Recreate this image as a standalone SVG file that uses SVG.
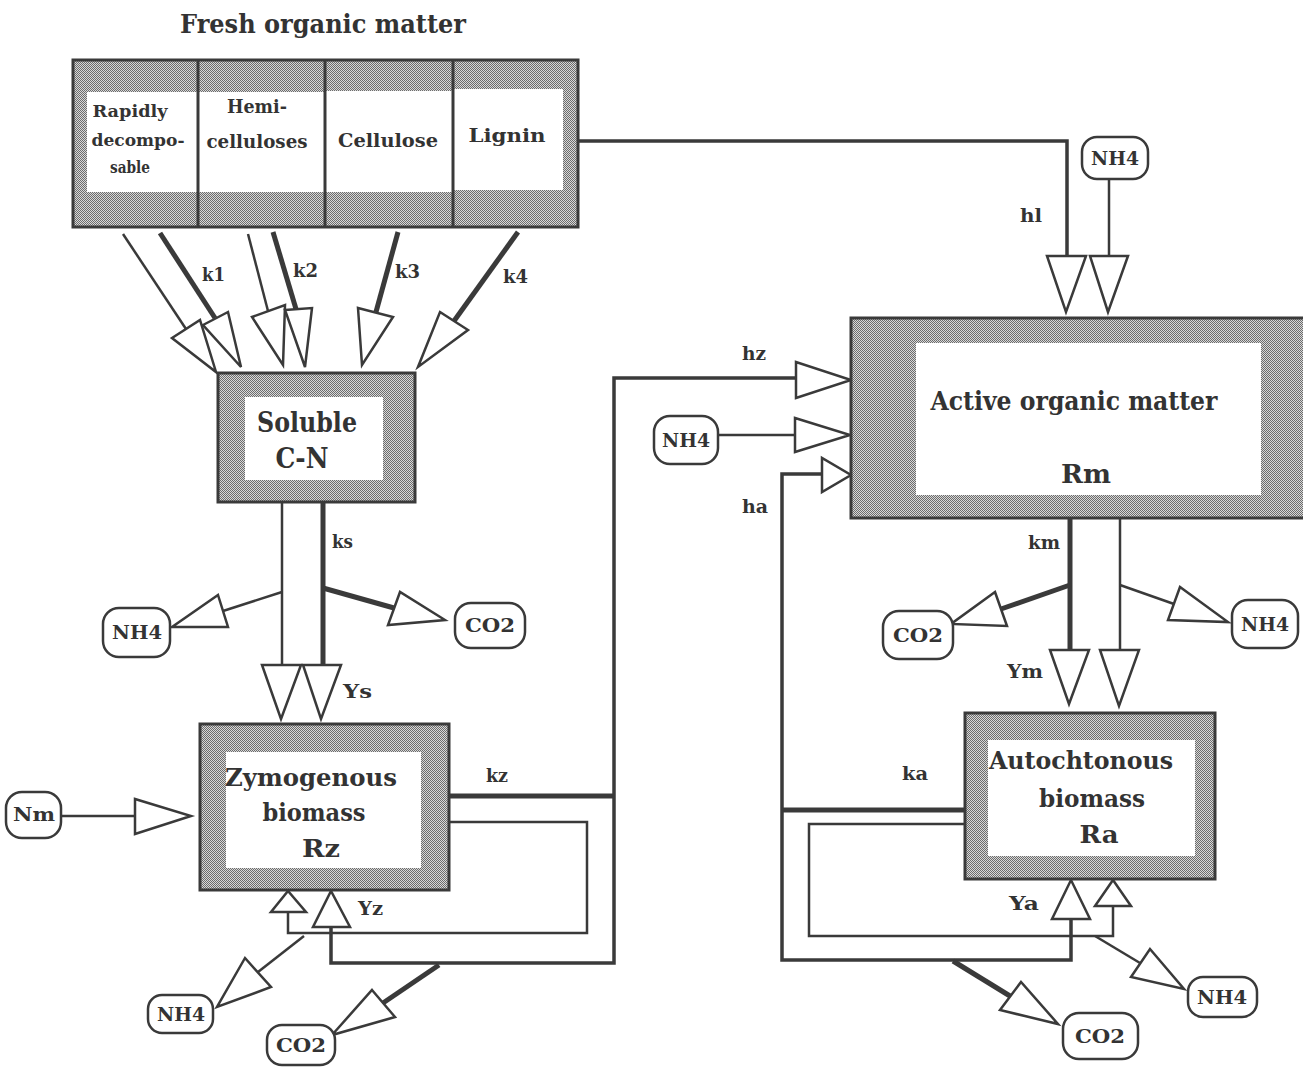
<svg xmlns="http://www.w3.org/2000/svg" width="1303" height="1074" viewBox="0 0 1303 1074">
<defs>
<pattern id="stip" width="2" height="2" patternUnits="userSpaceOnUse">
<rect width="2" height="2" fill="#d8d8d8"/>
<rect width="1" height="1" fill="#6c6c6c"/>
<rect x="1" y="1" width="1" height="1" fill="#6c6c6c"/>
</pattern>
<style>
.box{fill:url(#stip);stroke:#3a3a3a;stroke-width:3}
.in{fill:#fff}
.div{stroke:#3a3a3a;stroke-width:3}
.pill{fill:#fff;stroke:#3a3a3a;stroke-width:2.5}
.ln{fill:none;stroke:#3a3a3a;stroke-width:2.5}
.md{fill:none;stroke:#3a3a3a;stroke-width:3.5}
.tk{fill:none;stroke:#3a3a3a;stroke-width:5}
.ah{fill:#fff;stroke:#3a3a3a;stroke-width:2.5;stroke-linejoin:miter}
text{font-family:"DejaVu Serif","Liberation Serif",serif;font-weight:bold;fill:#333}
.c{text-anchor:middle}
.s17{font-size:16px}
.s19{font-size:18px}
.s25{font-size:25px}
.s26{font-size:26px}
.s27{font-size:27px}
</style>
</defs>
<rect width="1303" height="1074" fill="#fff"/>

<g id="connectors">
<!-- fresh -> soluble -->
<path class="ln" d="M123,234 L186,329"/>
<polygon class="ah" points="172,338 200,320 216,372"/>
<path class="tk" d="M160,233 L215,318"/>
<polygon class="ah" points="203,325 228,312 241,367"/>
<path class="ln" d="M248,234 L268,311"/>
<polygon class="ah" points="252,317 285,305 283,365"/>
<path class="tk" d="M273,232 L296,309"/>
<polygon class="ah" points="285,310 312,308 305,367"/>
<path class="tk" d="M398,232 L376,312"/>
<polygon class="ah" points="358,308 393,317 362,365"/>
<path class="tk" d="M518,232 L454,321"/>
<polygon class="ah" points="440,312 468,330 418,367"/>
<text class="s19" x="202" y="281" textLength="23" lengthAdjust="spacingAndGlyphs">k1</text>
<text class="s19" x="293" y="277" textLength="25" lengthAdjust="spacingAndGlyphs">k2</text>
<text class="s19" x="395" y="278" textLength="25" lengthAdjust="spacingAndGlyphs">k3</text>
<text class="s19" x="503" y="283" textLength="25" lengthAdjust="spacingAndGlyphs">k4</text>

<!-- soluble -> zymogenous -->
<path class="ln" d="M282,502 V665"/>
<path class="tk" d="M323,502 V665"/>
<polygon class="ah" points="262,665 301,665 281,719"/>
<polygon class="ah" points="303,665 341,665 321,719"/>
<path class="ln" d="M282,592 L223,611"/>
<polygon class="ah" points="218,595 228,627 172,627"/>
<path class="tk" d="M323,588 L394,608"/>
<polygon class="ah" points="400,592 388,625 445,620"/>
<text class="s19" x="332" y="548" textLength="21" lengthAdjust="spacingAndGlyphs">ks</text>
<text class="s19" x="343" y="698" textLength="29" lengthAdjust="spacingAndGlyphs">Ys</text>

<!-- Nm -> zymogenous -->
<path class="ln" d="M61,816 H135"/>
<polygon class="ah" points="135,799 135,834 191,816"/>

<!-- zymogenous loops -->
<path class="tk" d="M449,796 H614"/>
<path class="md" d="M331,927 V963 H614 V378 H796"/>
<path class="ln" d="M449,822 H587 V933 H288 V912"/>
<polygon class="ah" points="271,912 306,912 288,891"/>
<polygon class="ah" points="313,927 350,927 331,891"/>
<path class="ln" d="M304,936 L258,972"/>
<polygon class="ah" points="245,958 271,987 217,1007"/>
<path class="tk" d="M439,965 L383,1003"/>
<polygon class="ah" points="372,990 395,1017 332,1035"/>
<text class="s19" x="486" y="782" textLength="22" lengthAdjust="spacingAndGlyphs">kz</text>
<text class="s19" x="358" y="915" textLength="25" lengthAdjust="spacingAndGlyphs">Yz</text>

<!-- into active organic matter -->
<path class="md" d="M578,141 H1067 V256"/>
<polygon class="ah" points="1047,256 1086,256 1066,312"/>
<path class="ln" d="M1109,179 V256"/>
<polygon class="ah" points="1090,256 1128,256 1108,312"/>
<text class="s19" x="1020" y="222" textLength="22" lengthAdjust="spacingAndGlyphs">hl</text>
<polygon class="ah" points="796,362 796,398 851,380"/>
<text class="s19" x="742" y="360" textLength="24" lengthAdjust="spacingAndGlyphs">hz</text>
<path class="ln" d="M718,435 H795"/>
<polygon class="ah" points="795,418 795,452 850,435"/>
<polygon class="ah" points="822,458 822,492 851,475"/>
<text class="s19" x="742" y="513" textLength="26" lengthAdjust="spacingAndGlyphs">ha</text>

<!-- active -> autochtonous -->
<path class="tk" d="M1070,518 V650"/>
<path class="ln" d="M1120,518 V650"/>
<polygon class="ah" points="1050,650 1089,650 1069,704"/>
<polygon class="ah" points="1100,650 1139,650 1119,706"/>
<path class="tk" d="M1070,585 L1001,609"/>
<polygon class="ah" points="995,592 1007,626 951,624"/>
<path class="ln" d="M1120,585 L1174,604"/>
<polygon class="ah" points="1180,587 1168,620 1228,622"/>
<text class="s19" x="1028" y="549" textLength="32" lengthAdjust="spacingAndGlyphs">km</text>
<text class="s19" x="1007" y="678" textLength="36" lengthAdjust="spacingAndGlyphs">Ym</text>

<!-- autochtonous loops -->
<path class="tk" d="M965,810 H782"/>
<path class="md" d="M1071,919 V960 H782 V474 H822"/>
<path class="ln" d="M965,824 H809 V936 H1113 V906"/>
<polygon class="ah" points="1095,906 1131,906 1113,880"/>
<polygon class="ah" points="1052,919 1090,919 1071,880"/>
<path class="tk" d="M953,961 L1010,996"/>
<polygon class="ah" points="1000,1010 1021,982 1058,1024"/>
<path class="ln" d="M1095,936 L1140,963"/>
<polygon class="ah" points="1131,977 1150,949 1184,989"/>
<text class="s19" x="902" y="780" textLength="26" lengthAdjust="spacingAndGlyphs">ka</text>
<text class="s19" x="1009" y="910" textLength="30" lengthAdjust="spacingAndGlyphs">Ya</text>
</g>

<g id="n-fresh">
<text class="c s26" x="323" y="33" textLength="286" lengthAdjust="spacingAndGlyphs">Fresh organic matter</text>
<rect class="box" x="73" y="60" width="505" height="167"/>
<rect class="in" x="87" y="92" width="111" height="100"/>
<rect class="in" x="199" y="92" width="125" height="100"/>
<rect class="in" x="326" y="91" width="126" height="101"/>
<rect class="in" x="454" y="89" width="109" height="101"/>
<line class="div" x1="198" y1="60" x2="198" y2="227"/>
<line class="div" x1="325" y1="60" x2="325" y2="227"/>
<line class="div" x1="453" y1="60" x2="453" y2="227"/>
<text class="c s17" x="130" y="117" textLength="75" lengthAdjust="spacingAndGlyphs">Rapidly</text>
<text class="c s17" x="138" y="146" textLength="93" lengthAdjust="spacingAndGlyphs">decompo-</text>
<text class="c s17" x="130" y="173" textLength="40" lengthAdjust="spacingAndGlyphs">sable</text>
<text class="c s19" x="257" y="113" textLength="60" lengthAdjust="spacingAndGlyphs">Hemi-</text>
<text class="c s19" x="257" y="148" textLength="101" lengthAdjust="spacingAndGlyphs">celluloses</text>
<text class="c s19" x="388" y="147" textLength="100" lengthAdjust="spacingAndGlyphs">Cellulose</text>
<text class="c s19" x="507" y="142" textLength="77" lengthAdjust="spacingAndGlyphs">Lignin</text>
</g>

<g id="n-soluble">
<rect class="box" x="218" y="373" width="197" height="129"/>
<rect class="in" x="245" y="397" width="138" height="83"/>
<text class="c s27" x="307" y="432" textLength="100" lengthAdjust="spacingAndGlyphs">Soluble</text>
<text class="c s27" x="302" y="468" textLength="53" lengthAdjust="spacingAndGlyphs">C-N</text>
</g>

<g id="n-zymo">
<rect class="box" x="200" y="724" width="249" height="166"/>
<rect class="in" x="226" y="752" width="195" height="116"/>
<text class="c s25" x="311" y="786" textLength="172" lengthAdjust="spacingAndGlyphs">Zymogenous</text>
<text class="c s25" x="314" y="821" textLength="103" lengthAdjust="spacingAndGlyphs">biomass</text>
<text class="c s25" x="321" y="857" textLength="38" lengthAdjust="spacingAndGlyphs">Rz</text>
</g>

<g id="n-active">
<rect class="box" x="851" y="318" width="460" height="200"/>
<rect class="in" x="916" y="343" width="345" height="152"/>
<text class="c s26" x="1074" y="410" textLength="287" lengthAdjust="spacingAndGlyphs">Active organic matter</text>
<text class="c s26" x="1086" y="483" textLength="50" lengthAdjust="spacingAndGlyphs">Rm</text>
</g>

<g id="n-autoch">
<rect class="box" x="965" y="713" width="250" height="166"/>
<rect class="in" x="988" y="740" width="207" height="116"/>
<text class="c s25" x="1081" y="769" textLength="184" lengthAdjust="spacingAndGlyphs">Autochtonous</text>
<text class="c s25" x="1092" y="807" textLength="106" lengthAdjust="spacingAndGlyphs">biomass</text>
<text class="c s25" x="1099" y="843" textLength="39" lengthAdjust="spacingAndGlyphs">Ra</text>
</g>

<g id="n-nh4-top">
<rect class="pill" x="1082" y="137" width="66" height="42" rx="15"/>
<text class="c s19" x="1115" y="165" textLength="48" lengthAdjust="spacingAndGlyphs">NH4</text>
</g>
<g id="n-nh4-active">
<rect class="pill" x="654" y="416" width="64" height="48" rx="16"/>
<text class="c s19" x="686" y="447" textLength="48" lengthAdjust="spacingAndGlyphs">NH4</text>
</g>
<g id="n-nh4-soluble">
<rect class="pill" x="103" y="608" width="67" height="49" rx="16"/>
<text class="c s19" x="137" y="639" textLength="50" lengthAdjust="spacingAndGlyphs">NH4</text>
</g>
<g id="n-co2-soluble">
<rect class="pill" x="455" y="603" width="70" height="45" rx="16"/>
<text class="c s19" x="490" y="632" textLength="50" lengthAdjust="spacingAndGlyphs">CO2</text>
</g>
<g id="n-nm">
<rect class="pill" x="6" y="792" width="55" height="46" rx="16"/>
<text class="c s19" x="34" y="821" textLength="42" lengthAdjust="spacingAndGlyphs">Nm</text>
</g>
<g id="n-nh4-zymo">
<rect class="pill" x="148" y="995" width="65" height="38" rx="14"/>
<text class="c s19" x="181" y="1021" textLength="48" lengthAdjust="spacingAndGlyphs">NH4</text>
</g>
<g id="n-co2-zymo">
<rect class="pill" x="267" y="1025" width="68" height="40" rx="15"/>
<text class="c s19" x="301" y="1052" textLength="50" lengthAdjust="spacingAndGlyphs">CO2</text>
</g>
<g id="n-co2-active">
<rect class="pill" x="883" y="611" width="70" height="48" rx="16"/>
<text class="c s19" x="918" y="642" textLength="50" lengthAdjust="spacingAndGlyphs">CO2</text>
</g>
<g id="n-nh4-active-r">
<rect class="pill" x="1232" y="600" width="66" height="48" rx="16"/>
<text class="c s19" x="1265" y="631" textLength="48" lengthAdjust="spacingAndGlyphs">NH4</text>
</g>
<g id="n-co2-autoch">
<rect class="pill" x="1063" y="1013" width="75" height="46" rx="16"/>
<text class="c s19" x="1100" y="1043" textLength="50" lengthAdjust="spacingAndGlyphs">CO2</text>
</g>
<g id="n-nh4-autoch">
<rect class="pill" x="1188" y="977" width="69" height="40" rx="15"/>
<text class="c s19" x="1222" y="1004" textLength="50" lengthAdjust="spacingAndGlyphs">NH4</text>
</g>
</svg>
